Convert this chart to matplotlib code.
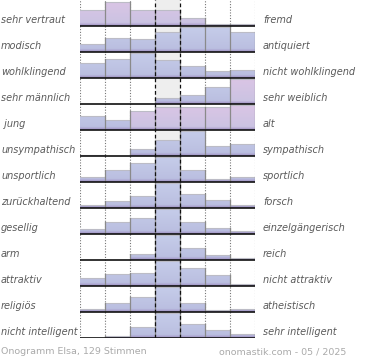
import matplotlib.pyplot as plt
import matplotlib.colors as mcolors
import numpy as np
from matplotlib.patches import Rectangle

# onogram: 13 word pairs, 7 steps each (relative bar heights, tallest = 25)
left_labels = ["sehr vertraut", "modisch", "wohlklingend", "sehr männlich", " jung",
               "unsympathisch", "unsportlich", "zurückhaltend", "gesellig", "arm",
               "attraktiv", "religiös", "nicht intelligent"]
right_labels = ["fremd", "antiquiert", "nicht wohlklingend", "sehr weiblich", "alt",
                "sympathisch", "sportlich", "forsch", "einzelgängerisch", "reich",
                "nicht attraktiv", "atheistisch", "sehr intelligent"]

votes = [
    [16, 24, 16, 16, 8, 2, 2],
    [8, 14, 13, 20, 25, 25, 20],
    [15, 19, 25, 18, 12, 7, 8],
    [0, 0, 0, 6, 9, 17, 25],
    [14, 10, 19, 23, 23, 23, 25],
    [1, 0, 7, 16, 25, 10, 12],
    [5, 12, 19, 25, 12, 3, 5],
    [3, 7, 12, 25, 14, 8, 3],
    [5, 12, 16, 25, 12, 6, 3],
    [0, 0, 6, 25, 12, 5, 2],
    [8, 12, 13, 25, 18, 11, 2],
    [3, 9, 15, 25, 9, 2, 3],
    [0, 2, 11, 25, 14, 8, 4],
]
# bars drawn in the pinkish tint
pink = {0: range(7), 3: [6], 4: [2, 3, 4, 5, 6]}

footer_left = "Onogramm Elsa, 129 Stimmen"
footer_right = "onomastik.com - 05 / 2025"


def gradient(top, bottom, band):
    # vertical strip for one row, top -> baseline
    n = 52
    c_top = np.array(mcolors.to_rgb(top))
    c_bot = np.array(mcolors.to_rgb(bottom))
    c_band = np.array(mcolors.to_rgb(band))
    rows = []
    for k in range(n):
        t = k / (n - 1)
        c = c_top + (c_bot - c_top) * t
        if t > 0.88:
            s = (t - 0.88) / 0.12
            c = c + (c_band - c) * s
        rows.append(c)
    return np.array(rows)[:, None, :]


grad_blue = gradient("#c6cdea", "#b9bddf", "#9c8cc0")
grad_pink = gradient("#dbc5e5", "#c9c3e2", "#9c8cc0")

fig = plt.figure(figsize=(3.7, 3.6), dpi=100)
ax = fig.add_axes([80 / 370, 22 / 360, 175 / 370, 338 / 360])
n_rows = len(votes)
ax.set_xlim(0, 7)
ax.set_ylim(n_rows, 0)
ax.axis("off")

ax.axvspan(3, 4, color="#eeeeee", zorder=0, lw=0)
for x in [0, 1, 2, 5, 6, 7]:
    ax.axvline(x, color="#777777", ls=(0, (1, 1.5)), lw=0.8, zorder=1)

for i, row in enumerate(votes):
    base = i + 1
    hs = [v / 25 * 0.96 for v in row]
    for j, h in enumerate(hs):
        if h <= 0:
            continue
        g = grad_pink if j in pink.get(i, []) else grad_blue
        rect = Rectangle((j, base - h), 1, h, facecolor="none", edgecolor="none")
        ax.add_patch(rect)
        im = ax.imshow(g, extent=(j, j + 1, base, base - 1), aspect="auto",
                       interpolation="bilinear", zorder=2)
        im.set_clip_path(rect)
        # light top edge
        ax.plot([j, j + 1], [base - h, base - h], color="#bcbcc6", lw=0.8, zorder=3)
    # gray step edges between bars
    for k in range(1, 8):
        hl = hs[k - 1]
        hr = hs[k] if k < 7 else 0
        top = max(hl, hr)
        if top > 0:
            ax.plot([k, k], [base, base - top], color="#8a8a8a", lw=0.9, zorder=3)
    ax.plot([0, 7], [base, base], color="#111111", lw=1.2, zorder=4,
            solid_capstyle="butt")
    ax.text(-80 / 25 + 0.04, base - 0.23, left_labels[i], ha="left", va="center",
            fontsize=7, style="italic", color="#5a5a5a", clip_on=False)
    ax.text(7 + 8 / 25, base - 0.23, right_labels[i], ha="left", va="center",
            fontsize=7, style="italic", color="#5a5a5a", clip_on=False)

for x in [3, 4]:
    ax.axvline(x, color="#111111", ls=(0, (3, 2)), lw=0.9, zorder=5)

fig.text(1 / 370, 1 - 352 / 360, footer_left, ha="left", va="center",
         fontsize=6.8, color="#aaaaaa")
fig.text(346 / 370, 1 - 352 / 360, footer_right, ha="right", va="center",
         fontsize=6.8, color="#aaaaaa")

fig.savefig("out.png", dpi=100)
